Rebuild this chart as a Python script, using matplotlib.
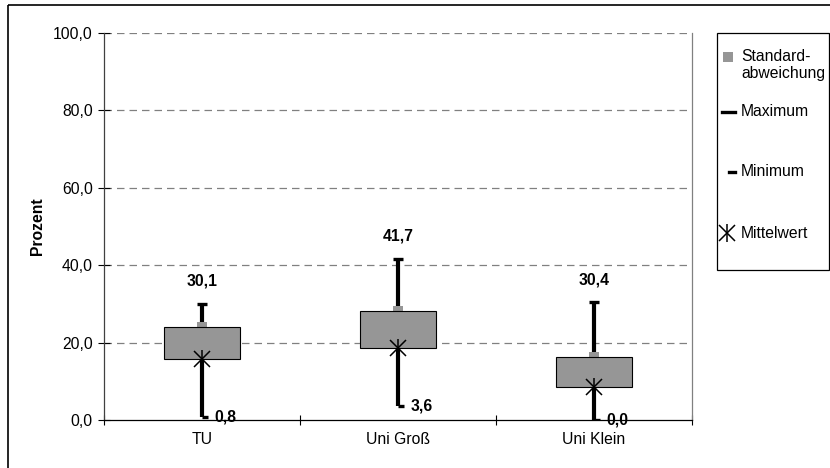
import matplotlib
matplotlib.use("Agg")
import matplotlib.pyplot as plt
from matplotlib.path import Path
from matplotlib.patches import Rectangle

plt.rcParams['font.family'] = ['Liberation Sans', 'DejaVu Sans']

categories = ["TU", "Uni Groß", "Uni Klein"]
mittelwert = [15.8, 18.6, 8.5]
standardabweichung = [8.3, 9.6, 7.9]
maximum = [30.1, 41.7, 30.4]
minimum = [0.8, 3.6, 0.0]
yticks = [0, 20, 40, 60, 80, 100]
ytick_labels = ["0,0", "20,0", "40,0", "60,0", "80,0", "100,0"]

def de(v):
    return f"{v:.1f}".replace(".", ",")

W, H = 830, 468
FS = 11.3
fig = plt.figure(figsize=(W / 100, H / 100), dpi=100)
ax = fig.add_axes([104 / W, 1 - 420 / H, (692 - 104) / W, (420 - 33) / H])

GRAY = "#969696"
x = list(range(len(categories)))

# grid
for v in yticks[1:]:
    ax.axhline(v, color="#808080", lw=0.9, ls=(0, (6, 4)), zorder=0)

# whiskers
ax.vlines(x, minimum, maximum, color="black", lw=3.0, zorder=2)
ax.plot(x, maximum, ls="none", marker="_", ms=7.5, mew=2.4, color="black", zorder=2)
right_tick = Path([(0, 0), (1, 0)], [Path.MOVETO, Path.LINETO])
ax.plot(x, minimum, ls="none", marker=right_tick, ms=9, mew=2.4, color="black", zorder=2)

# boxes (Mittelwert .. Mittelwert + Standardabweichung)
ax.bar(x, standardabweichung, bottom=mittelwert, width=0.39, color=GRAY,
       edgecolor="black", linewidth=0.8, zorder=3)
tops = [m + s for m, s in zip(mittelwert, standardabweichung)]
ax.plot(x, tops, ls="none", marker="s", ms=6.5, color=GRAY, mew=0, zorder=2.5)

# mean markers
ax.plot(x, mittelwert, ls="none", marker="x", ms=11, mew=1.1, color="black", zorder=4)
ax.plot(x, mittelwert, ls="none", marker="|", ms=13, mew=1.1, color="black", zorder=4)

# labels
for i in x:
    ax.annotate(de(maximum[i]), (i, maximum[i]), xytext=(0, 16), textcoords="offset points",
                ha="center", va="center", fontsize=FS, fontweight="bold")
    ax.annotate(de(minimum[i]), (i, minimum[i]), xytext=(9, 0), textcoords="offset points",
                ha="left", va="center", fontsize=FS, fontweight="bold")

ax.set_xlim(-0.5, len(categories) - 0.5)
ax.set_ylim(0, 100)
ax.set_yticks(yticks)
ax.set_yticklabels(ytick_labels, fontsize=FS)
ax.set_xticks(x)
ax.set_xticklabels(categories, fontsize=FS)
ax.tick_params(axis="x", length=0, pad=9)
ax.set_xticks([-0.5, 0.5, 1.5, 2.5], minor=True)
ax.tick_params(axis="x", which="minor", direction="inout", length=7, width=0.8)
ax.tick_params(axis="y", direction="inout", length=8, width=0.8, pad=4)
ax.set_ylabel("Prozent", fontsize=FS, fontweight="bold", labelpad=6)
ax.spines["left"].set_color("#404040")
ax.spines["bottom"].set_color("black")
ax.spines["right"].set_color("#808080")
ax.spines["top"].set_visible(False)
for s in ax.spines.values():
    s.set_linewidth(0.9)
ax.set_facecolor("white")

# overlay in pixel coordinates for frame and legend
ov = fig.add_axes([0, 0, 1, 1], zorder=10)
ov.set_xlim(0, W)
ov.set_ylim(H, 0)
ov.axis("off")
ov.patch.set_alpha(0)
ov.add_patch(Rectangle((8, 5), W + 10, H + 10, fill=False, ec="black", lw=1.2))
ov.add_patch(Rectangle((717, 33), 112, 237, fill=False, ec="black", lw=0.9))
ov.plot([728], [57], marker="s", ms=6.5, color=GRAY, mew=0)
ov.text(741, 65, "Standard-\nabweichung", fontsize=FS, va="center", ha="left", linespacing=1.2)
ov.plot([722, 735], [112, 112], color="black", lw=2.4)
ov.text(741, 112, "Maximum", fontsize=FS, va="center", ha="left")
ov.plot([729, 735], [172, 172], color="black", lw=2.4)
ov.text(741, 172, "Minimum", fontsize=FS, va="center", ha="left")
ov.plot([727], [233], marker="x", ms=11, mew=1.1, color="black")
ov.plot([727], [233], marker="|", ms=13, mew=1.1, color="black")
ov.text(741, 233, "Mittelwert", fontsize=FS, va="center", ha="left")

fig.savefig("out.png", dpi=100)
